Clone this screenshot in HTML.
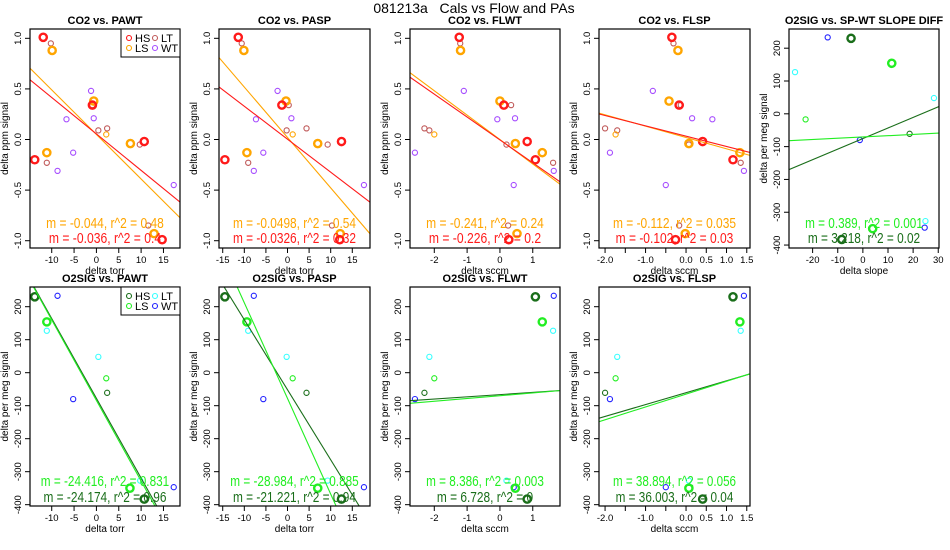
<!DOCTYPE html>
<html><head><meta charset="utf-8"><style>
html,body{margin:0;padding:0;background:#fff;width:950px;height:550px;overflow:hidden}
svg{display:block;font-family:"Liberation Sans",Arial,sans-serif}
</style></head><body>
<svg id="chart" width="950" height="550" xmlns="http://www.w3.org/2000/svg">
<text x="474" y="13" font-size="14" text-anchor="middle" style="white-space:pre">081213a   Cals vs Flow and PAs</text>
</svg>
<script>
// ---- CO2 data (y values per series, x values per panel) ----
const hsY=[1.01,0.34,-0.02,-0.20,-0.99];
const hsPAWT=[-11.9,-0.9,10.7,-13.8,14.7];
const hsPASP=[-11.4,-1.3,12.5,-14.5,12.1];
const hsFLWT=[-1.24,0.12,0.83,1.08,0.27];
const hsFLSP=[-0.35,-0.17,0.41,1.16,-0.26];
const lsY=[0.88,0.38,-0.04,-0.13,-0.93,0.05];
const lsThick=[1,1,1,1,1,0];
const lsPAWT=[-9.9,-0.6,7.6,-11.1,12.9,2.2];
const lsPASP=[-10.1,-0.35,7.0,-9.4,12.2,1.2];
const lsFLWT=[-1.2,0.0,0.47,1.29,0.52,-2.0];
const lsFLSP=[-0.2,-0.42,0.07,1.33,-0.02,-1.74];
const ltY=[0.95,0.34,0.09,0.11,-0.05,-0.23,-0.85];
const ltPAWT=[-10.2,-0.9,0.43,2.4,9.7,-11.1,11.6];
const ltPASP=[-10.6,0.28,-0.2,4.4,9.3,-9.1,10.3];
const ltFLWT=[-1.21,0.34,-2.15,-2.3,0.2,1.62,0.25];
const ltFLSP=[-0.31,-0.13,-1.7,-2.0,0.07,1.35,-0.17];
const wtY=[0.48,0.21,0.20,-0.13,-0.31,-0.45];
const wtPAWT=[-1.2,-0.6,-6.7,-5.2,-8.7,17.3];
const wtPASP=[-2.3,0.9,-7.3,-5.6,-7.8,17.7];
const wtFLWT=[-1.1,0.46,-0.08,-2.59,1.64,0.42];
const wtFLSP=[-0.82,0.15,0.65,-1.88,1.43,-0.5];
// CO2 fits
const co2SlopeLS=[-0.044,-0.0498,-0.241,-0.112];
const co2InterLS=[0.05,0.02,0.0,0.02];
const co2R2LS=['0.48','0.54','0.24','0.035'];
const co2SlopeHS=[-0.036,-0.0326,-0.226,-0.102];
const co2InterHS=[0.055,0.003,-0.004,0.033];
const co2R2HS=['0.4','0.32','0.2','0.03'];
// ---- O2 data ----
const o2Group=['HS','LS','WT','LT','LT','LS','HS','WT','LT','WT','LS','HS'];
const o2Thick=[1,1,0,0,0,0,0,0,0,0,1,1];
const o2Y=[230,154,233,127,48,-17,-61,-80,-327,-347,-350,-383];
const o2PAWT=[-13.8,-11.1,-8.7,-11.1,0.43,2.2,2.4,-5.2,9.8,17.3,7.5,10.7];
const o2PASP=[-14.5,-9.4,-7.8,-9.1,-0.2,1.2,4.4,-5.6,9.3,17.7,7.0,12.5];
const o2FLWT=[1.08,1.29,1.64,1.62,-2.15,-2.0,-2.3,-2.59,0.2,0.42,0.47,0.83];
const o2FLSP=[1.16,1.33,1.43,1.35,-1.7,-1.74,-2.0,-1.88,0.07,-0.5,0.07,0.41];
const o2SLOPE=[-4.7,11.5,-14.0,-27,28.3,-22.8,18.6,-1.2,24.9,24.6,3.9,-8.4];
const o2SlopeLS=[-24.416,-28.984,8.386,38.894,0.389];
const o2InterLS=[-84.1,-78,-69.7,-64.9,-70.6];
const o2R2LS=['0.831','0.885','0.003','0.056','0.001'];
const o2SlopeHS=[-24.174,-21.221,6.728,36.003,3.218];
const o2InterHS=[-77.7,-51.7,-66.4,-60.6,-75.4];
const o2R2HS=['0.96','0.94','0','0.04','0.02'];
// ticks
const co2YTicks=[-1.0,-0.5,0.0,0.5,1.0];
const o2YTicks=[-400,-300,-200,-100,0,100,200];
const ticksTorr1=[-10,-5,0,5,10,15];
const ticksTorr2=[-15,-10,-5,0,5,10,15];
const ticksFLWT=[-2,-1,0,1];
const ticksFLSP=[-2.0,-1.5,-1.0,-0.5,0.0,0.5,1.0,1.5];
const labelsFLSP=['-2.0','','-1.0','','0.0','0.5','1.0','1.5'];
const ticksSlope=[-20,-10,0,10,20,30];

const colCO2={HS:'#ff1a1a',LS:'#ffa500',LT:'#c05a5a',WT:'#a64dff'};
const colO2={HS:'#1a6e1a',LS:'#22ee22',LT:'#33ffff',WT:'#2222ff'};
const NS='http://www.w3.org/2000/svg';
const svg=document.getElementById('chart');
function mk(tag,attrs,parent){const e=document.createElementNS(NS,tag);for(const k in attrs)e.setAttribute(k,attrs[k]);(parent||svg).appendChild(e);return e;}
let clipId=0;
function panel(c){
  const g=mk('g',{});
  
  
  const [x0,x1]=c.box[0],[y0,y1]=c.box[1];
  const sx=v=>x0+(v-c.xlim[0])/(c.xlim[1]-c.xlim[0])*(x1-x0);
  const sy=v=>y1-(v-c.ylim[0])/(c.ylim[1]-c.ylim[0])*(y1-y0);
  const id='clip'+(clipId++);
  const cp=mk('clipPath',{id:id},g);mk('rect',{x:x0,y:y0,width:x1-x0,height:y1-y0},cp);
  const t=mk('text',{x:(x0+x1)/2,y:y0-5,'font-size':11,'font-weight':'bold','text-anchor':'middle'},g);t.textContent=c.title;
  
  
  c.yticks.forEach(v=>{const y=sy(v);mk('line',{x1:x0-5,x2:x0,y1:y,y2:y,stroke:'#000'},g);
    const l=mk('text',{x:0,y:0,'font-size':9.5,'text-anchor':'middle',transform:`translate(${x0-9},${y}) rotate(-90)`},g);l.textContent=c.yfmt(v);
    
    });
  mk('line',{x1:x0,x2:x0,y1:sy(c.yticks[0]),y2:sy(c.yticks[c.yticks.length-1]),stroke:'#000'},g);
  c.xticks.forEach((v,i)=>{const x=sx(v);mk('line',{x1:x,x2:x,y1:y1,y2:y1+5,stroke:'#000'},g);
    const l=mk('text',{x:x,y:y1+15,'font-size':9.5,'text-anchor':'middle'},g);l.textContent=c.xlabels?c.xlabels[i]:String(v);
    
    });
  mk('line',{x1:sx(c.xticks[0]),x2:sx(c.xticks[c.xticks.length-1]),y1:y1,y2:y1,stroke:'#000'},g);
  const xl=mk('text',{x:(x0+x1)/2,y:y1+26,'font-size':10,'text-anchor':'middle'},g);xl.textContent=c.xlab;
  
  
  const yl=mk('text',{x:0,y:0,'font-size':10,'text-anchor':'middle',transform:`translate(${x0-22},${(y0+y1)/2}) rotate(-90)`},g);yl.textContent=c.ylab;
  
  
  const pg=mk('g',{'clip-path':`url(#${id})`},g);
  c.points.forEach(p=>{const e=mk('circle',{cx:sx(p.x),cy:sy(p.y),r:p.thick?3.6:2.6,fill:'none',stroke:p.col,'stroke-width':p.thick?2.4:1.1},pg);
    
    });
  c.lines.forEach(L=>{
    // clip the line y=a+bx to the plotting window in data space
    let xa=c.xlim[0],xb=c.xlim[1];
    if(L.b!==0){
      const xy0=(c.ylim[0]-L.a)/L.b,xy1=(c.ylim[1]-L.a)/L.b;
      const lo=Math.min(xy0,xy1),hi=Math.max(xy0,xy1);
      xa=Math.max(xa,lo);xb=Math.min(xb,hi);
    }
    if(xb<=xa)return;
    const e=mk('line',{x1:sx(xa),y1:sy(L.a+L.b*xa),x2:sx(xb),y2:sy(L.a+L.b*xb),stroke:L.col,'stroke-width':1.1},pg);
    
    });
  mk('rect',{x:x0,y:y0,width:x1-x0,height:y1-y0,fill:'none',stroke:'#000','stroke-width':1.2},g);
  c.texts.forEach(T=>{const w=T.s.length*5.35;
    const e=mk('text',{x:(x0+x1)/2,y:T.y,'font-size':14.5,'text-anchor':'middle',fill:T.col,textLength:w.toFixed(1),lengthAdjust:'spacingAndGlyphs'},g);e.textContent=T.s;
    
    });
  if(c.legend){const L=c.legend,lx=x1-59,ly=y0;
    const lg=mk('g',{},g);
    
    
    mk('rect',{x:lx,y:ly,width:59,height:28,fill:'#fff',stroke:'#000'},lg);
    L.forEach((it,i)=>{const cx=lx+8+(i%2)*26,cy=ly+9+Math.floor(i/2)*10;
      mk('circle',{cx:cx,cy:cy,r:2.5,fill:'none',stroke:it[1],'stroke-width':1.1},lg);
      const tx=mk('text',{x:cx+6,y:cy+4,'font-size':11},lg);tx.textContent=it[0];
      
      });}
}
const cols=[[30,180],[219,370],[410,560],[599,750],[789,939]];
const xlims=[[-14.86,18.7],[-15.86,19.1],[-2.74,1.83],[-2.15,1.58],[-29.4,30.3]];
const xticksAll=[ticksTorr1,ticksTorr2,ticksFLWT,ticksFLSP,ticksSlope];
const xlabs=['delta torr','delta torr','delta sccm','delta sccm','delta slope'];
const names=['PAWT','PASP','FLWT','FLSP'];
const co2X={HS:[hsPAWT,hsPASP,hsFLWT,hsFLSP],LS:[lsPAWT,lsPASP,lsFLWT,lsFLSP],LT:[ltPAWT,ltPASP,ltFLWT,ltFLSP],WT:[wtPAWT,wtPASP,wtFLWT,wtFLSP]};
const co2Yv={HS:hsY,LS:lsY,LT:ltY,WT:wtY};
for(let i=0;i<4;i++){
  const pts=[];
  ['LT','WT','LS','HS'].forEach(s=>{co2Yv[s].forEach((y,j)=>{pts.push({x:co2X[s][i][j],y:y,col:colCO2[s],thick:s==='HS'?1:(s==='LS'?lsThick[j]:0)});});});
  panel({name:'co2-vs-'+names[i].toLowerCase()+'-panel',box:[cols[i],[29,248]],xlim:xlims[i],ylim:[-1.072,1.092],xticks:xticksAll[i],xlabels:i===3?labelsFLSP:null,
    yticks:co2YTicks,yfmt:v=>v.toFixed(1),title:'CO2 vs. '+names[i],xlab:xlabs[i],ylab:'delta ppm signal',points:pts,
    lines:[{a:co2InterLS[i],b:co2SlopeLS[i],col:colCO2.LS},{a:co2InterHS[i],b:co2SlopeHS[i],col:colCO2.HS}],
    texts:[{y:228,col:colCO2.LS,s:`m = ${co2SlopeLS[i]}, r^2 = ${co2R2LS[i]}`},{y:243,col:colCO2.HS,s:`m = ${co2SlopeHS[i]}, r^2 = ${co2R2HS[i]}`}],
    legend:i===0?[['HS',colCO2.HS],['LT',colCO2.LT],['LS',colCO2.LS],['WT',colCO2.WT]]:null});
}
const o2X=[o2PAWT,o2PASP,o2FLWT,o2FLSP,o2SLOPE];
const o2Names=['PAWT','PASP','FLWT','FLSP','SP-WT SLOPE DIFF'];
for(let i=0;i<5;i++){
  const pts=o2Y.map((y,j)=>({x:o2X[i][j],y:y,col:colO2[o2Group[j]],thick:o2Thick[j]}));
  const top=i===4;
  const by=top?[29,248]:[287,506];
  const yl=top?[-409,258.5]:[-404,259.7];
  const ty=top?[228,243]:[486,502];
  panel({name:'o2sig-vs-'+o2Names[i].toLowerCase().replace(/ /g,'-')+'-panel',box:[cols[i],by],xlim:xlims[i],ylim:yl,xticks:xticksAll[i],xlabels:i===3?labelsFLSP:null,
    yticks:o2YTicks,yfmt:v=>String(v),title:'O2SIG vs. '+o2Names[i],xlab:xlabs[i],ylab:'delta per meg signal',points:pts,
    lines:[{a:o2InterHS[i],b:o2SlopeHS[i],col:colO2.HS},{a:o2InterLS[i],b:o2SlopeLS[i],col:colO2.LS}],
    texts:[{y:ty[0],col:colO2.LS,s:`m = ${o2SlopeLS[i]}, r^2 = ${o2R2LS[i]}`},{y:ty[1],col:colO2.HS,s:`m = ${o2SlopeHS[i]}, r^2 = ${o2R2HS[i]}`}],
    legend:i===0?[['HS',colO2.HS],['LT',colO2.LT],['LS',colO2.LS],['WT',colO2.WT]]:null});
}
</script>
</body></html>
